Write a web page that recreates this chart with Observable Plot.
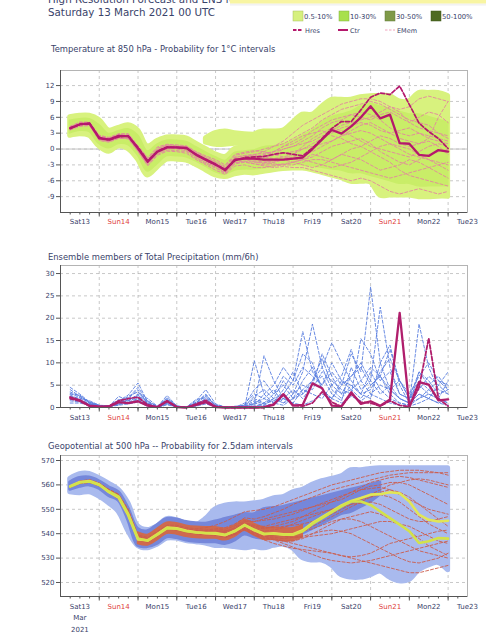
<!DOCTYPE html>
<html><head><meta charset="utf-8">
<script src="https://cdn.jsdelivr.net/npm/d3@7"></script>
<script src="https://cdn.jsdelivr.net/npm/@observablehq/plot@0.6"></script>
<style>
html,body{margin:0;padding:0;background:#fff;}
#wrap{position:relative;width:486px;height:640px;overflow:hidden;font-family:"DejaVu Sans",sans-serif;}
</style></head><body>
<div id="wrap"></div>
<script>
// ---------- time axis ----------
const hours = d3.range(6, 241, 6);            // forecast steps (h after 13 Mar 00 UTC)
const dayLabels = ["Sat13","Sun14","Mon15","Tue16","Wed17","Thu18","Fri19","Sat20","Sun21","Mon22","Tue23"];
const sundayLabels = ["Sun14","Sun21"];
const monthLabel = "Mar";
const yearLabel = "2021";
const tempTicks = [-9,-6,-3,0,3,6,9,12];
const precipTicks = [0,5,10,15,20,25,30];
const geoTicks = [520,530,540,550,560,570];

// ---------- Temperature 850 hPa ----------
const tempCtr = [3.9,4.7,4.8,2.0,1.8,2.5,2.4,0.1,-2.4,-0.5, 0.3,0.3,0.2,-1.1,-2.0,-2.9,-4.0,-2.0,-1.8,-1.8, -2.0,-2.0,-2.0,-1.8,-1.6,0.0,1.8,3.6,2.9,4.3, 6.0,8.1,5.8,6.5,1.1,1.0,-1.1,-1.3,-0.2,-0.5];
const tempHres = [4.0,4.6,4.9,2.2,1.7,2.3,2.5,0.3,-2.2,-0.4, 0.4,0.3,0.1,-1.0,-2.1,-3.0,-3.8,-2.2,-1.6,-1.5, -1.4,-1.0,-0.7,-1.0,-1.3,0.2,2.0,3.9,5.2,5.2, 7.4,9.8,10.6,10.3,11.9,8.4,4.9,3.3,2.0,0.1];
const tempOuterHi = [6.0,6.3,6.3,5.5,3.5,4.0,4.5,3.5,0.5,1.5, 2.2,2.2,2.0,1.0,0.0,-1.0,-1.5,0.0,0.5,2.7, 3.3,3.3,3.5,5.0,6.5,6.5,8.0,9.3,9.3,9.3, 9.8,10.0,10.0,10.0,9.0,9.0,10.6,10.6,10.6,10.0];
const tempOuterLo = [2.5,2.8,2.5,0.5,-0.5,0.5,0.0,-2.0,-5.0,-3.5, -2.0,-2.0,-2.2,-3.0,-4.0,-5.0,-5.3,-4.8,-4.5,-4.6, -4.3,-4.0,-3.8,-3.7,-3.7,-4.0,-4.5,-5.0,-5.5,-6.2, -6.2,-6.3,-8.8,-8.8,-8.8,-8.8,-9.1,-9.1,-9.0,-9.0];
const tempInnerHi = [5.3,5.6,5.6,4.5,2.8,3.3,3.7,2.5,-0.5,0.8, 1.5,1.5,1.3,0.3,-0.7,-1.6,-2.3,-0.8,-0.5,-0.3, 0.3,0.5,0.8,1.5,2.5,3.5,5.0,6.0,6.5,7.0, 8.0,8.5,8.0,7.5,7.0,6.5,6.5,6.0,5.5,5.0];
const tempInnerLo = [3.0,3.5,3.3,1.0,0.2,1.0,0.8,-1.2,-4.2,-2.8, -1.3,-1.3,-1.5,-2.3,-3.3,-4.3,-4.8,-4.0,-3.8,-3.8, -3.6,-3.3,-3.0,-3.0,-3.0,-3.2,-3.5,-3.8,-4.0,-4.5, -4.5,-5.0,-5.5,-6.0,-6.5,-6.5,-7.0,-7.0,-7.0,-7.0];
const tempBlobHours = [90,96,102,108,114,120];
const tempBlobHi = [2.0,3.0,3.3,3.0,2.8,2.7];
const tempBlobLo = [1.2,0.8,0.8,1.0,1.0,1.5];
const tempMembers = [
 [4.2,5.0,5.0,2.5,2.0,2.8,2.8,0.5,-2.0,0.0, 0.8,0.6,0.4,-0.8,-1.8,-2.5,-3.5,-1.5,-1.2,-1.0, -0.8,-0.5,0.0,0.5,1.5,2.5,4.0,5.0,5.5,6.5, 7.0,6.5,5.5,4.0,3.0,2.5,3.0,2.0,1.5,1.0],
 [3.6,4.3,4.5,1.6,1.3,2.0,2.0,-0.5,-3.0,-1.0, -0.2,-0.3,-0.5,-1.8,-2.8,-3.6,-4.6,-2.8,-2.5,-2.8, -3.0,-3.0,-2.8,-2.5,-2.0,-1.5,-0.5,0.5,1.0,1.5, 2.0,1.0,-0.5,-1.5,-2.5,-3.0,-2.0,-1.0,-0.5,0.0],
 [4.0,4.8,4.6,2.2,1.9,2.4,2.2,0.0,-2.6,-0.6, 0.2,0.4,0.0,-1.3,-2.2,-3.1,-4.2,-2.3,-2.0,-1.5, -1.0,-0.5,0.5,1.5,2.5,3.0,3.5,2.5,2.0,1.0, 0.5,-0.5,-1.5,-2.5,-4.0,-5.0,-5.5,-6.0,-6.5,-7.0],
 [3.8,4.5,4.7,1.8,1.6,2.6,2.6,0.2,-2.3,-0.3, 0.5,0.2,0.3,-0.9,-2.0,-2.7,-3.8,-1.8,-1.5,-1.2, -1.5,-1.8,-1.5,-1.0,0.0,1.0,2.0,3.5,4.5,5.0, 5.5,6.0,7.0,8.0,7.0,5.0,4.0,3.5,3.0,2.5],
 [3.7,4.6,4.9,2.0,1.5,2.2,2.5,-0.2,-2.8,-0.8, 0.0,0.1,-0.2,-1.5,-2.5,-3.3,-4.3,-2.5,-2.3,-2.5, -2.5,-2.2,-2.0,-1.5,-1.0,-0.5,0.5,1.5,2.5,3.0, 3.5,3.0,2.0,1.0,0.0,-1.0,-1.5,-2.0,-2.5,-3.0],
 [4.1,4.9,5.0,2.4,2.1,2.7,2.3,0.4,-1.8,0.2, 0.6,0.5,0.5,-0.6,-1.5,-2.3,-3.3,-1.2,-0.8,-0.5, 0.0,0.5,1.0,2.0,3.0,4.0,5.5,6.5,7.5,8.0, 8.5,9.0,8.5,7.5,6.5,5.5,5.0,4.5,3.0,2.0],
 [3.9,4.4,4.4,1.7,1.4,2.1,1.9,-0.4,-3.2,-1.2, -0.4,-0.5,-0.8,-2.0,-3.0,-4.0,-4.8,-3.2,-3.0,-3.5, -3.5,-3.2,-3.0,-3.0,-2.5,-2.0,-2.0,-2.5,-3.0,-3.5, -4.0,-4.5,-5.0,-5.5,-5.0,-4.5,-4.0,-3.5,-3.0,-2.5],
 [4.0,4.7,4.8,2.1,1.8,2.5,2.4,0.1,-2.4,-0.5, 0.3,0.3,0.2,-1.0,-2.0,-2.9,-4.0,-2.0,-1.8,-2.0, -2.2,-2.5,-2.0,-1.0,0.5,2.0,3.0,4.0,3.5,2.5, 1.5,0.5,0.0,-0.5,-1.0,-1.5,-0.5,0.5,1.0,0.5],
 [3.8,4.6,4.7,1.9,1.7,2.3,2.6,0.0,-2.5,-0.2, 0.4,0.2,0.0,-1.2,-2.3,-3.2,-3.9,-2.1,-1.9,-1.8, -1.6,-1.2,-0.8,-0.5,0.0,0.5,1.0,1.5,2.5,3.5, 4.5,5.0,4.0,3.0,2.0,1.5,1.0,2.0,6.0,9.0],
 [4.3,5.1,5.1,2.6,2.2,2.9,2.9,0.6,-1.6,0.4, 0.9,0.8,0.6,-0.5,-1.3,-2.0,-3.0,-1.0,-0.6,-0.3, -0.5,-1.0,-1.5,-2.0,-2.0,-2.5,-3.0,-3.5,-3.0,-2.5, -1.5,-0.5,0.5,1.0,0.5,0.0,-1.0,-2.0,-3.0,-4.0],
 [3.9,4.7,4.6,1.9,1.6,2.4,2.3,-0.1,-2.7,-0.7, 0.1,0.0,-0.3,-1.6,-2.6,-3.4,-4.5,-2.6,-2.4,-2.8, -3.2,-3.5,-3.3,-3.5,-3.5,-4.0,-4.5,-5.0,-5.5,-6.0, -5.5,-6.0,-7.0,-8.0,-8.5,-8.0,-7.5,-8.0,-8.5,-8.0],
 [4.1,4.8,4.9,2.3,2.0,2.6,2.6,0.3,-2.1,-0.1, 0.6,0.5,0.4,-0.7,-1.7,-2.6,-3.6,-1.6,-1.3,-1.1, -0.5,0.5,1.5,3.0,4.5,5.5,6.5,7.5,8.5,9.0, 9.5,9.5,9.0,8.0,7.5,8.0,9.5,10.0,9.5,9.0],
 [3.8,4.6,4.8,2.0,1.7,2.4,2.4,0.0,-2.5,-0.5, 0.2,0.2,0.1,-1.1,-2.1,-3.0,-4.1,-2.1,-1.9,-1.9, -1.5,-1.0,0.0,0.5,1.0,1.5,2.5,3.0,4.0,4.5, 5.0,4.5,3.5,3.0,3.5,4.0,3.0,2.5,2.0,1.5],
 [4.0,4.7,4.7,2.1,1.9,2.5,2.3,0.2,-2.3,-0.4, 0.4,0.4,0.3,-0.9,-1.9,-2.8,-3.9,-1.9,-1.7,-2.2, -2.5,-2.8,-3.0,-2.5,-2.0,-1.0,-1.5,-2.0,-1.0,0.0, 0.5,1.5,2.5,2.0,1.0,0.5,1.0,1.5,0.5,-1.0],
 [3.9,4.8,4.9,2.2,1.8,2.6,2.5,0.2,-2.2,-0.3, 0.3,0.2,0.2,-1.0,-1.9,-2.8,-3.9,-1.9,-1.7,-1.6, -1.2,-0.5,0.5,1.0,2.0,3.5,4.5,5.5,6.0,6.5, 6.0,5.5,6.5,7.0,6.0,5.0,6.0,7.0,6.5,5.0],
 [4.0,4.6,4.7,1.9,1.7,2.3,2.4,0.0,-2.5,-0.6, 0.2,0.2,0.1,-1.2,-2.2,-3.1,-4.1,-2.2,-2.0,-2.4, -2.8,-2.5,-2.0,-2.5,-3.0,-3.5,-3.0,-2.0,-1.0,-1.5, -2.0,-3.0,-4.0,-3.5,-3.0,-2.0,-2.5,-3.5,-4.5,-5.5]
];

// ---------- Precipitation ----------
const precipCtr = [2.3,1.6,0.4,0.2,0.2,1.2,1.0,1.4,0.4,0.1, 1.4,0.1,0.0,0.6,1.2,0.1,0.0,0.0,0.0,0.0, 0.1,0.6,3.0,0.4,0.6,5.4,4.3,0.4,0.3,3.4, 0.8,1.4,0.4,1.8,21.2,0.1,5.7,5.1,1.6,1.8];
const precipHres = [2.0,1.4,0.3,0.2,0.3,1.5,2.0,2.3,0.6,0.1, 1.5,0.1,0.0,0.8,1.6,0.2,0.0,0.0,0.0,0.0, 0.0,0.8,2.8,0.5,0.3,1.0,3.5,1.2,0.2,3.0, 1.2,1.0,0.3,1.5,0.5,0.2,4.5,15.5,2.0,0.3];
const precipMembers = [
 [4.5,3.0,1.2,0.4,0.3,1.5,2.8,5.5,1.2,0.2,2.7,0.3,0.0,1.0,2.5,0.5,0.0,0.2,0.5, 2.0,1.0,3.0,5.0,2.0,6.0,9.0,4.0,2.0,5.0,12.0,8.0,27.0,10.0,4.0,2.0,1.0,3.0,2.0,5.0,3.0],
 [3.5,2.5,1.0,0.3,0.4,1.0,2.0,4.0,0.8,0.1,1.8,0.2,0.1,1.5,4.0,0.8,0.1,0.0,1.0, 3.0,2.0,1.0,4.0,8.0,3.0,6.0,11.0,5.0,3.0,7.0,10.0,6.0,22.5,9.0,3.0,2.0,6.0,4.0,2.0,1.0],
 [2.5,2.0,1.5,0.5,0.2,2.5,1.5,3.0,2.0,0.3,2.0,0.4,0.0,0.6,1.5,0.3,0.0,0.3,0.2, 1.0,0.5,2.0,6.0,3.0,8.0,18.7,9.0,4.0,2.0,5.0,3.0,8.0,4.0,2.0,1.0,0.5,8.0,6.0,3.0,4.0],
 [1.5,1.2,0.8,0.3,0.2,0.8,1.2,2.0,0.5,0.0,1.0,0.1,0.0,0.8,2.0,0.2,0.0,0.0,0.0, 0.5,3.0,5.0,9.0,6.0,17.0,8.0,5.0,10.0,6.0,4.0,2.0,5.0,7.0,3.0,1.0,0.5,2.0,4.0,6.0,5.0],
 [3.0,2.8,1.0,0.4,0.3,1.2,2.5,3.5,1.0,0.2,1.5,0.2,0.0,1.2,3.0,0.4,0.1,0.1,0.3, 1.5,0.8,1.5,2.0,4.0,2.0,5.0,7.0,3.0,1.5,9.0,4.0,6.0,3.0,5.0,2.0,1.0,18.7,9.0,4.0,3.0],
 [2.0,1.5,0.6,0.2,0.3,1.8,1.0,1.5,0.6,0.1,1.2,0.1,0.0,0.5,1.0,0.1,0.0,0.0,0.1, 0.8,11.6,6.0,2.0,1.0,4.0,6.0,9.0,14.5,10.0,6.0,3.0,4.0,8.0,11.0,6.0,2.0,4.0,7.0,5.0,8.0],
 [4.0,2.5,1.3,0.5,0.4,0.6,1.8,2.5,1.5,0.2,2.2,0.3,0.1,1.8,2.2,0.6,0.1,0.1,0.4, 2.5,4.0,2.0,1.0,3.0,5.0,4.0,8.0,6.0,4.0,3.0,15.4,12.0,6.0,8.0,3.0,2.0,5.0,3.0,2.0,6.0],
 [1.0,1.0,0.5,0.2,0.2,0.5,0.8,1.2,0.3,0.0,0.6,0.1,0.0,0.3,0.8,0.1,0.0,0.0,0.0, 10.5,3.0,1.0,0.5,2.0,4.0,3.0,2.0,5.0,7.0,13.0,6.0,3.0,5.0,4.0,2.0,1.0,3.0,2.0,1.0,2.0],
 [2.8,1.8,0.9,0.3,0.3,1.0,1.5,2.2,0.8,0.1,0.9,0.2,0.0,0.9,1.8,0.3,0.0,0.0,0.2, 1.0,2.0,4.0,1.0,2.0,3.0,5.0,12.0,7.0,3.0,4.0,6.0,9.0,7.0,13.0,6.0,3.0,7.0,10.0,6.0,4.0],
 [3.2,2.2,1.1,0.4,0.2,1.4,2.2,4.5,1.4,0.2,1.6,0.2,0.0,1.1,2.8,0.4,0.0,0.1,0.6, 4.0,6.0,3.0,7.0,5.0,9.0,7.0,5.0,8.0,5.0,7.0,9.0,5.0,7.0,4.0,6.0,2.0,8.0,5.0,7.0,4.0],
 [1.8,1.4,0.7,0.2,0.2,0.7,1.0,1.8,0.4,0.0,0.8,0.1,0.0,0.4,1.2,0.2,0.0,0.0,0.0, 0.3,0.5,0.8,2.0,1.0,0.5,1.5,3.0,2.0,1.0,2.5,1.5,3.0,2.0,1.0,0.5,0.3,1.0,2.0,1.0,0.5],
 [2.2,1.6,0.8,0.3,0.3,1.1,1.6,2.8,0.9,0.1,1.3,0.1,0.0,0.7,1.4,0.2,0.0,0.0,0.1, 0.2,1.0,2.0,3.0,6.0,12.0,10.0,4.0,2.0,6.0,5.0,3.0,2.0,10.0,14.0,5.0,1.0,2.0,3.0,2.0,1.0]
];

// ---------- Geopotential 500 hPa ----------
const geoCtr = [559.3,561.0,561.4,560.0,557.3,555.2,548.0,538.0,537.1,539.6, 542.3,542.0,541.0,540.5,540.3,540.3,539.6,541.0,543.4,541.6, 540.0,540.0,539.6,539.6,541.0,544.0,546.4,548.8,551.2,553.2, 553.2,551.8,549.1,546.4,543.7,541.0,536.2,536.9,538.2,538.0];
const geoHres = [559.5,561.2,561.6,560.2,557.0,554.8,547.5,537.6,537.3,539.8, 542.5,542.2,541.2,540.6,540.2,540.0,539.4,541.2,543.6,541.4, 539.8,540.2,539.8,539.8,541.4,544.4,546.8,549.2,551.6,553.4, 554.6,556.0,556.2,557.0,556.6,553.2,547.8,545.7,545.0,545.3];
const geoOuterHi = [562.5,564.4,564.5,562.7,560.5,558,552.5,543,541.5,543, 546,545.5,544,543.5,546,550,551.5,552,552,552.5, 553,554.5,555,557,558,560,561.5,562.5,563.5,566, 566,566.5,566.8,566.8,566.8,566.8,566.8,566.8,566.8,566.8];
const geoOuterLo = [557,556.6,557,555.2,552.5,549,541,535,534,535.5, 538,538,537,536.5,536,535,535,534.5,534,534.5, 534,535,535.5,534,530,529,529,527,523,522, 522,523,524.5,522,520.5,521,525,527,528,525];
const geoMidHi = [561,562.8,563,561.5,559,557,550.5,542,541,543.5, 546,545.8,544.8,544.3,544.1,545,546,547,548,548, 550,550.5,551,552,553,554,555,556,557,558, 559,560,561,null,null,null,null,null,null,null];
const geoMidLo = [558,559.2,559.8,558.5,555.5,553.5,545.5,535,534.5,535.8, 538.5,538.2,537.2,536.7,536.5,536.5,535.8,537.2,539.7,538.5, 538,538,538.5,539,540,542,544,546,548,549, 551,553,556,null,null,null,null,null,null,null];
const geoCoreHi = [null,null,null,null,null,null,null,540.5,539.5,542, 544.5,544.3,543.3,542.8,542.6,542.6,542,543.3,545.6,544, 542.5,542.5,542.2,542.2,543.5, null,null,null,null,null, null,null,null,null,null,null,null,null,null,null];
const geoCoreLo = [null,null,null,null,null,null,null,535.8,535.2,537.3, 540,539.7,538.7,538.2,538,538,537.3,538.7,541.2,539.2, 537.5,537.5,537,537,538.5, null,null,null,null,null, null,null,null,null,null,null,null,null,null,null];
const geoMembers = [
 [559.5,561.5,562,560.5,557,554,547,537.5,536.5,539, 542,542.5,541.5,541,541,541,541,542.5,545,545, 546,547,548,549,550,551,552,553,554,556, 558,559.5,560,561,561,560,558,556,554,552],
 [559,560.5,561,559.5,557.5,555.5,549,538.5,537.5,540, 542.5,541.5,540.5,540,539.5,539.5,538.5,539.5,541.5,539.5, 538,537.5,537,537,538,540,542,544,546,547, 548,549,548,546,544,541,538,535,533,531],
 [559.4,561.2,561.6,560.2,557.6,555.5,548.5,538.3,537.3,539.8, 542.5,542.2,541.2,540.8,540.5,540.6,540.2,541.5,543.8,542.5, 542,543,544,545,547,549,551,553,555,557, 559,561,562,563,563.5,563,562,561,560,559],
 [559.2,560.8,561.2,559.8,557,554.8,547.5,537.8,536.8,539.3, 542,541.8,540.8,540.2,540,539.8,539,540.5,542.5,540.5, 539,538,537,536,535,534,533,532,531,530, 529,528,527,526,525,524,524,525,526,527],
 [559.6,561.3,561.8,560.3,557.5,555,548.2,538.2,537.4,540, 542.6,542.4,541.4,541,540.8,541,541.2,542,544.5,543.5, 543,544,545,546,547,548,549,550,551,552, 552.5,553,552,550,548,546,545,545,546,547],
 [559.3,561,561.3,559.9,557.2,555.3,548,538,537,539.5, 542.2,541.9,540.9,540.4,540.2,540.1,539.4,540.8,543,541, 539.5,539,539.5,540,541,542,543.5,545,546,546, 545,543,541,539,537,535,533,532,531,530],
 [559.5,561.4,561.9,560.6,558,556,549.5,539,538,540.5, 543,542.8,542,541.5,541.5,542,542.5,544,546.5,546, 547,548.5,550,552,553.5,555,556.5,558,559,560, 561,562,563,564,564.5,565,565,565,565,565],
 [559.1,560.7,561,559.6,557,554.5,547.2,537.6,536.6,539, 541.7,541.5,540.5,540,539.7,539.4,538.6,539.8,541.8,539.8, 538.5,537.5,536,534.5,533,531.5,530,529,528.5,528, 528.5,529,530,531,532,533,534,535,536,537],
 [559.3,561.1,561.5,560.1,557.4,555.3,548.1,538.1,537.2,539.7, 542.4,542.1,541.1,540.6,540.4,540.4,539.8,541.2,543.6,542, 541,541.5,542.5,544,545.5,547,548.5,550,551.5,553, 554,555,556,555,553,550,547,544,542,540],
 [559.4,561.1,561.5,560,557.3,555.1,547.9,537.9,537.1,539.6, 542.3,542,541,540.5,540.3,540.3,539.7,541,543.3,541.7, 540.2,540.2,540,540,541,543,545,547,549,551, 553,555,557,558,557,555,552,549,546,543],
 [559.6,561.6,562.2,560.8,558.2,556.2,550,539.5,538.5,541, 543.5,543.5,542.5,542,542.5,543.5,545,547,549,549.5, 550,551,552.5,554,555.5,557,558.5,560,561,562, 563,564,565,565.5,566,566,566,565.5,565,564],
 [559.2,560.9,561.3,559.9,557.1,555,547.8,537.8,536.9,539.4, 542.1,541.7,540.7,540.1,539.9,539.6,538.8,540.2,542.2,540.2, 539,538.5,538,538.5,539,540,541,541.5,541,540, 538,536,534,532,530,528.5,528,529,530,532],
 [559.4,561.2,561.7,560.3,557.5,555.4,548.3,538.2,537.3,539.9, 542.6,542.3,541.4,540.9,540.7,540.8,540.6,542,544.3,543, 542.5,542.5,543,543.5,544,545,546.5,548,550,552, 554,556,558,560,561,562,562.5,562,561,560],
 [559.3,561,561.4,560,557.2,555.1,547.9,537.9,537,539.5, 542.2,541.9,540.9,540.4,540.1,540,539.3,540.6,542.8,540.8, 539.5,539.5,539,538.5,538.5,539,539.5,540,541,542, 543,544,545,545,544,543,541,539,537,536],
 [559.5,561.3,561.8,560.4,557.8,555.8,549,538.8,537.8,540.2, 542.8,542.6,541.7,541.2,541.1,541.5,541.8,543.2,545.5,545, 545.5,546,547,548,549.5,551,552.5,554,555.5,557, 558,558.5,559,558,556,554,552,550,549,548],
 [559.2,560.9,561.2,559.8,557,554.9,547.6,537.7,536.8,539.2, 541.9,541.6,540.6,540,539.8,539.5,538.7,539.9,541.9,539.5, 537.5,536,535,534,533.5,533,532.5,532,531,530.5, 531,532,534,536,537,538,539,540,541,541.5]
];

// ---------- helpers ----------
const T0 = Date.UTC(2021, 2, 13);
const at = h => new Date(T0 + h * 3600e3);
const TEXT = "#39426a";
const midnights = d3.range(24, 241, 24).map(at);
const sixHourly = d3.range(6, 252, 6).map(at);
const dayRows = dayLabels.map((l, i) => ({date: at(12 + 24 * i), label: l}));
const lineRows = arr => hours.map((h, i) => ({date: at(h), v: arr[i]}));
const bandRows = (lo, hi, hs = hours) => hs.map((h, i) => ({date: at(h), lo: lo[i], hi: hi[i]}));
const memberRows = list => list.flatMap((arr, k) => arr.map((v, i) => ({date: at(hours[i]), v, m: k})));
const band = (lo, hi, color, opts = {}, hs) => Plot.areaY(bandRows(lo, hi, hs), {
  x: "date", y1: "lo", y2: "hi", fill: color, stroke: color, strokeWidth: 5,
  strokeLinejoin: "round", curve: "catmull-rom", clip: true, ...opts});

const wrap = document.getElementById("wrap");

function panel({top, height, marginBottom, yDomain, yTicks, labelDy, marks, extra = []}) {
  const svg = Plot.plot({
    width: 486, height, marginTop: 10, marginBottom, marginLeft: 60, marginRight: 19,
    style: {background: "transparent", fontFamily: "DejaVu Sans", fontSize: "7px", color: TEXT, overflow: "visible"},
    x: {type: "utc", domain: [at(0), at(252)]},
    y: {domain: yDomain},
    marks: [
      Plot.gridY(yTicks, {stroke: "#9a9a9a", strokeOpacity: 0.55, strokeDasharray: "3,3"}),
      Plot.gridX(midnights, {stroke: "#9a9a9a", strokeOpacity: 0.55, strokeDasharray: "3,3"}),
      ...marks,
      Plot.frame({stroke: "#b4b4b4"}),
      Plot.ruleX([at(0)], {stroke: "#555"}),
      Plot.ruleY([yDomain[0]], {stroke: "#555"}),
      Plot.axisY(yTicks, {tickSize: 4, tickPadding: 2, tickFormat: d => String(d), label: null, stroke: "#555", fontSize: 7}),
      Plot.axisX(sixHourly, {tickSize: 2.5, tickFormat: () => "", label: null, stroke: "#555"}),
      Plot.axisX(midnights, {tickSize: 4.5, tickFormat: () => "", label: null, stroke: "#555"}),
      Plot.text(dayRows.filter(d => !sundayLabels.includes(d.label)), {x: "date", text: "label", frameAnchor: "bottom", dy: labelDy, fill: TEXT, fontSize: 7}),
      Plot.text(dayRows.filter(d => sundayLabels.includes(d.label)), {x: "date", text: "label", frameAnchor: "bottom", dy: labelDy, fill: "#e0403c", fontSize: 7}),
      ...extra
    ]
  });
  svg.style.position = "absolute";
  svg.style.left = "0px";
  svg.style.top = top + "px";
  wrap.appendChild(svg);
}

// Panel 1: temperature
panel({
  top: 60, height: 180, marginBottom: 28, yDomain: [-12, 14.85], yTicks: tempTicks, labelDy: 11,
  marks: [
    Plot.ruleY([0], {stroke: "#c4c4c4"}),
    band(tempOuterLo, tempOuterHi, "#d8f27e"),
    band(tempBlobLo, tempBlobHi, "#d8f27e", {}, tempBlobHours),
    band(tempInnerLo, tempInnerHi, "#c9ed68", {strokeWidth: 2}),
    Plot.line(memberRows(tempMembers), {x: "date", y: "v", z: "m", stroke: "#e2869e", strokeWidth: 0.9, strokeDasharray: "3,2", clip: true}),
    Plot.line(lineRows(tempHres), {x: "date", y: "v", stroke: "#b4186c", strokeWidth: 1.7, strokeDasharray: "4,2"}),
    Plot.line(lineRows(tempCtr), {x: "date", y: "v", stroke: "#b4186c", strokeWidth: 2.3})
  ]
});

// Panel 2: precipitation
panel({
  top: 255, height: 177, marginBottom: 25, yDomain: [0, 31.8], yTicks: precipTicks, labelDy: 12,
  marks: [
    Plot.line(memberRows(precipMembers), {x: "date", y: "v", z: "m", stroke: "#5a7fe0", strokeWidth: 0.9, strokeDasharray: "3,2", clip: true}),
    Plot.line(lineRows(precipHres), {x: "date", y: "v", stroke: "#b01e6c", strokeWidth: 1.8, strokeDasharray: "4,2"}),
    Plot.line(lineRows(precipCtr), {x: "date", y: "v", stroke: "#b01e6c", strokeWidth: 2.3})
  ]
});

// Panel 3: geopotential
panel({
  top: 445, height: 195, marginBottom: 44, yDomain: [514.26, 572.05], yTicks: geoTicks, labelDy: 12,
  marks: [
    band(geoOuterLo, geoOuterHi, "#a9baee"),
    band(geoMidLo, geoMidHi, "#7587da", {strokeWidth: 3}),
    band(geoCoreLo, geoCoreHi, "#cf6a4e", {strokeWidth: 1.5}),
    Plot.line(memberRows(geoMembers), {x: "date", y: "v", z: "m", stroke: "#cc5c4c", strokeWidth: 0.9, strokeDasharray: "3,2", clip: true}),
    Plot.line(lineRows(geoHres), {x: "date", y: "v", stroke: "#e2e655", strokeWidth: 2.6}),
    Plot.line(lineRows(geoCtr), {x: "date", y: "v", stroke: "#d3e24a", strokeWidth: 2.6})
  ],
  extra: [
    Plot.text([{date: at(12), label: monthLabel}], {x: "date", text: "label", frameAnchor: "bottom", dy: 23, fill: TEXT, fontSize: 7}),
    Plot.text([{date: at(12), label: yearLabel}], {x: "date", text: "label", frameAnchor: "bottom", dy: 35, fill: TEXT, fontSize: 7})
  ]
});

// Header, legend and panel titles (real text)
const ns = "http://www.w3.org/2000/svg";
const hdr = document.createElementNS(ns, "svg");
hdr.setAttribute("width", 486); hdr.setAttribute("height", 640);
hdr.style.position = "absolute"; hdr.style.left = "0"; hdr.style.top = "0"; hdr.style.pointerEvents = "none";
hdr.setAttribute("font-family", "DejaVu Sans");
hdr.innerHTML = `
  <text x="48" y="2.5" font-size="10.3" fill="${TEXT}">High Resolution Forecast and ENS forecast</text>
  <rect x="230" y="0" width="256" height="3.6" fill="#f8f5a2"/>
  <rect x="230" y="3.6" width="256" height="2" fill="#e9e9e9" opacity="0.6"/>
  <text x="48" y="15.5" font-size="10.3" fill="${TEXT}">Saturday 13 March 2021 00 UTC</text>
  <rect x="293" y="11" width="10" height="10" fill="#d6f07e" stroke="#a8c060" stroke-width="0.5"/>
  <text x="304" y="19" font-size="6.8" fill="${TEXT}">0.5-10%</text>
  <rect x="339" y="11" width="10" height="10" fill="#a8e04c" stroke="#80b040" stroke-width="0.5"/>
  <text x="350" y="19" font-size="6.8" fill="${TEXT}">10-30%</text>
  <rect x="385" y="11" width="10" height="10" fill="#7f9a48" stroke="#607a38" stroke-width="0.5"/>
  <text x="396" y="19" font-size="6.8" fill="${TEXT}">30-50%</text>
  <rect x="431" y="11" width="10" height="10" fill="#4e6a22" stroke="#3c5418" stroke-width="0.5"/>
  <text x="442" y="19" font-size="6.8" fill="${TEXT}">50-100%</text>
  <line x1="293" x2="303" y1="30" y2="30" stroke="#b4186c" stroke-width="2" stroke-dasharray="3.5,1.5"/>
  <text x="305" y="32.5" font-size="6.5" fill="${TEXT}">Hres</text>
  <line x1="338" x2="348" y1="30" y2="30" stroke="#b4186c" stroke-width="2"/>
  <text x="350" y="32.5" font-size="6.5" fill="${TEXT}">Ctr</text>
  <line x1="385" x2="395" y1="30" y2="30" stroke="#f0a2bc" stroke-width="1" stroke-dasharray="2.5,1.5"/>
  <text x="397" y="32.5" font-size="6.5" fill="${TEXT}">EMem</text>
  <text x="51" y="52" font-size="8.4" fill="${TEXT}">Temperature at 850 hPa - Probability for 1°C intervals</text>
  <text x="48" y="259.5" font-size="8.4" fill="${TEXT}">Ensemble members of Total Precipitation (mm/6h)</text>
  <text x="48" y="448.5" font-size="8.4" fill="${TEXT}">Geopotential at 500 hPa -- Probability for 2.5dam intervals</text>
`;
wrap.appendChild(hdr);
</script>
</body></html>
